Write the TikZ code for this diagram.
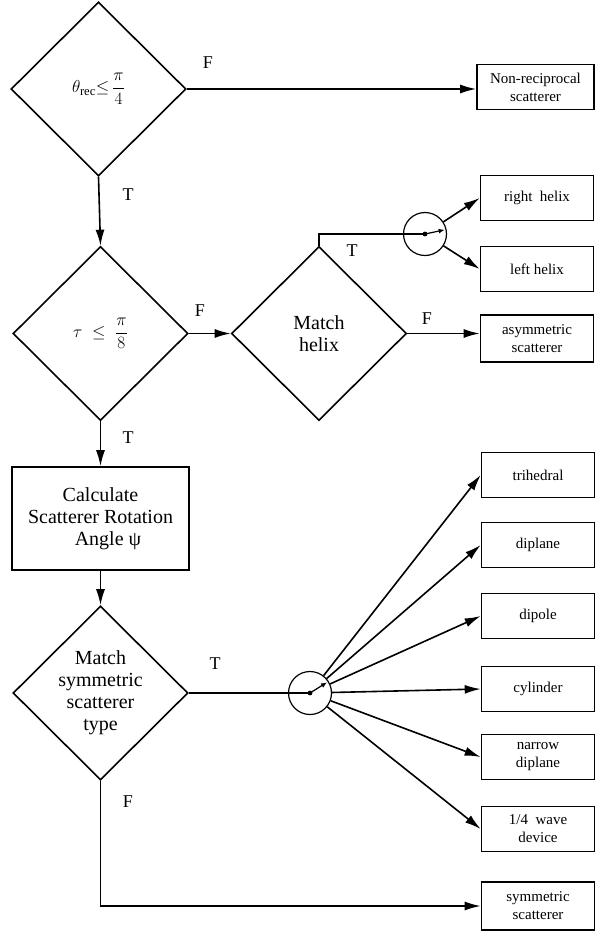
\documentclass[tikz,border=0pt]{standalone}
\usepackage{fontspec}
\setmainfont{Liberation Serif}
\usetikzlibrary{shapes.geometric,arrows.meta}

\begin{document}
\begin{tikzpicture}[x=1pt,y=-1pt,line width=1.6pt,
  decision/.style={draw,diamond,aspect=1,minimum width=175pt,minimum height=174pt,inner sep=0pt,align=center,font=\fontsize{20}{22}\selectfont},
  procbox/.style={draw,rectangle,minimum width=177pt,minimum height=103pt,align=center,font=\fontsize{20}{22}\selectfont},
  outbox/.style={draw,rectangle,minimum width=113pt,minimum height=45pt,inner sep=1pt,align=center,font=\fontsize{15}{18}\selectfont},
  swcircle/.style={draw,circle,minimum size=43pt,inner sep=0pt,line width=1.2pt},
  tflabel/.style={font=\fontsize{18}{20}\selectfont},
  flowarrow/.style={-{Latex[length=16pt,width=9pt]}},
  tinyarrow/.style={-{Latex[length=6pt,width=5pt]},line width=1.2pt,shorten >=2pt}]
%
\useasboundingbox (0,0) rectangle (595,940);
% theta_rec
\node[decision,font=\fontsize{18}{20}\selectfont] (recip) at (98.5,89) {$\displaystyle\theta_{\mathrm{rec}}{\leq}\,\frac{\pi}{4}$};
\node[outbox,minimum width=117pt] (nonrecip) at (535.5,87) {Non-reciprocal\\scatterer};
\draw[flowarrow] (recip.east) -- (recip.east -| nonrecip.west);
\node[tflabel] (f1) at (208,63) {F};

% tau
\node[decision,font=\fontsize{18}{20}\selectfont] (tau) at (100.5,333.5) {$\displaystyle\tau\;\leq\;\frac{\pi}{8}$};
\draw[flowarrow] (recip.south) -- (tau.north);
\node[tflabel] (t1) at (128,195) {T};

% helix
\node[decision] (helix) at (319,333.5) {Match\\helix};
\draw[flowarrow] (tau.east) -- (helix.west);
\node[tflabel] (f2) at (200,311) {F};

\node[swcircle] (swhelix) at (425,234) {};
\draw (helix.north) |- (swhelix.center);
\node[tflabel] (t3) at (352,251) {T};
\fill (swhelix.center) circle (2.4pt);
\draw[tinyarrow] (swhelix.center) -- (swhelix.12);

\node[outbox] (rhelix) at (537,198) {right\ \ helix};
\node[outbox] (lhelix) at (537,269) {left helix};
\draw[flowarrow] (swhelix) -- (rhelix.west);
\draw[flowarrow] (swhelix) -- (lhelix.west);

\node[outbox,minimum height=47pt] (asym) at (537,338.5) {asymmetric\\scatterer};
\draw[flowarrow] (helix.east) -- (helix.east -| asym.west);
\node[tflabel] (f3) at (427,319) {F};

% psi
\node[procbox] (calc) at (100.5,518.5) {Calculate\\Scatterer Rotation\\\ \ \ Angle ψ};
\draw[flowarrow] (tau.south) -- (calc.north);
\node[tflabel] (t2) at (128,438) {T};

% symmetric type
\node[decision] (symtype) at (100.5,693) {Match\\symmetric\\scatterer\\type};
\draw[flowarrow] (calc.south) -- (symtype.north);

\node[swcircle] (swsym) at (310,693) {};
\draw (symtype.east) -- (swsym.center);
\node[tflabel] (t4) at (215,664) {T};
\fill (swsym.center) circle (2.4pt);
\draw[tinyarrow] (swsym.center) -- (swsym.32);

\foreach \name/\y/\txt in {trihedral/475/trihedral,diplane/545/diplane,dipole/616/dipole,
  cylinder/689/cylinder,narrow/757/{narrow\\diplane},quarter/829/{1/4\ \ wave\\device}} {
\node[outbox] (\name) at (538,\y) {\txt};
\draw[flowarrow] (swsym) -- (\name.west);
}

\node[outbox,minimum height=48pt] (symm) at (538,906) {symmetric\\scatterer};
\draw[flowarrow] (symtype.south) |- (symm.west);
\node[tflabel] (f4) at (128,802) {F};
\end{tikzpicture}
\end{document}
